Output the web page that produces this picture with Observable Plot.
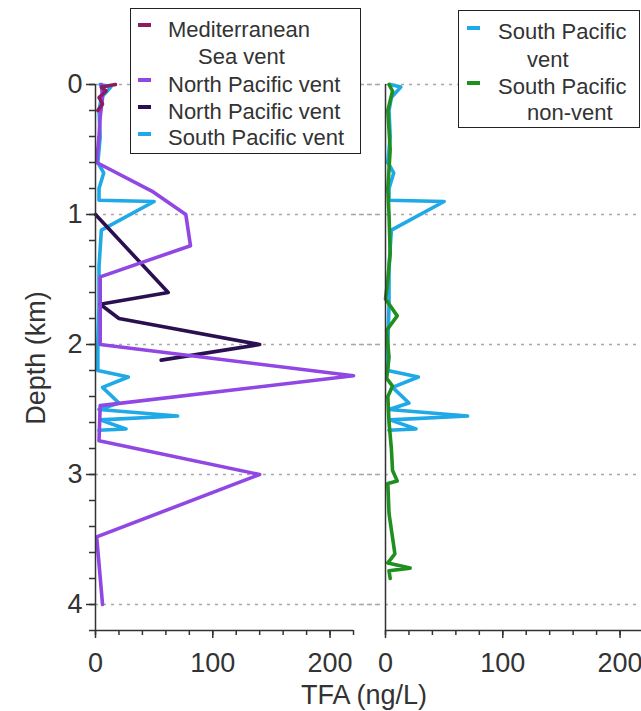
<!DOCTYPE html>
<html>
<head>
<meta charset="utf-8">
<script src="https://cdn.jsdelivr.net/npm/d3@7"></script>
<script src="https://cdn.jsdelivr.net/npm/@observablehq/plot@0.6"></script>
<style>
  html, body { margin: 0; padding: 0; background: #fff; overflow: hidden; }
  #wrap { position: relative; width: 641px; height: 711px; overflow: hidden; font-family: "Liberation Sans", Arial, sans-serif; color: #333; }
  #wrap svg { position: absolute; top: 0; overflow: visible; }
  .lg { position: absolute; background: #fff; border: 1.5px solid #222; box-sizing: border-box; }
  .lt { position: absolute; font-size: 22px; line-height: 26px; white-space: nowrap; color: #333; }
  .sw { position: absolute; width: 13px; height: 4px; }
  .ax { position: absolute; white-space: nowrap; color: #333; }
</style>
</head>
<body>
<div id="wrap"></div>
<script>
// ---- data (depth in km, TFA in ng/L) ----
const medDepth = [0, 0.02, 0.05, 0.1, 0.15, 0.2];
const medTFA   = [17, 5, 9, 3, 6, 2];

const npPurpleDepth = [0, 0.1, 0.25, 0.4, 0.6, 0.82, 1.0, 1.24, 1.48, 2.0, 2.24, 2.47, 2.74, 3.0, 3.48, 4.0];
const npPurpleTFA   = [5, 6, 4, 3, 1, 48, 77, 81, 4, 4, 220, 4, 3, 140, 1, 6];

const npNavyDepth = [1.0, 1.6, 1.69, 1.8, 2.0, 2.12];
const npNavyTFA   = [0, 62, 4, 20, 140, 56];

const spVentDepth = [0, 0.02, 0.1, 0.2, 0.4, 0.6, 0.68, 0.8, 0.89, 0.9, 1.12, 1.4, 1.7, 2.0, 2.2, 2.25, 2.33, 2.45, 2.5, 2.55, 2.58, 2.65, 2.66];
const spVentTFA   = [4, 13, 5, 3, 4, 2, 7, 3, 3, 50, 5, 3, 3, 2, 2, 28, 6, 20, 3, 70, 4, 26, 3];

const spNonDepth = [0, 0.05, 0.2, 0.5, 0.8, 1.0, 1.3, 1.5, 1.65, 1.78, 1.89, 2.1, 2.26, 2.32, 2.4, 2.6, 2.8, 2.97, 3.05, 3.07, 3.3, 3.61, 3.68, 3.72, 3.74, 3.8];
const spNonTFA   = [3, 6, 2, 4, 2, 3, 4, 2, 0, 10, 1, 3, 1, 6, 2, 3, 5, 6, 10, 2, 3, 8, 2, 21, 3, 4];

const depthTicks = [0, 1, 2, 3, 4];
const tfaTicks = [0, 100, 200];

const colors = {
  med: "#8c1b62",
  npPurple: "#9147e3",
  npNavy: "#2a1050",
  spVent: "#1fa9e6",
  spNon: "#1f8f1f"
};

const rows = (depths, vals) => depths.map((d, i) => ({depth: d, tfa: vals[i]}));

const minorY = d3.range(0, 4.2001, 0.2);
const minorX = d3.range(0, 220.001, 20);

function axes(showYLabels) {
  const m = [
    Plot.ruleX([0], {stroke: "#333", strokeWidth: 1.5}),
    Plot.ruleY([4.2], {stroke: "#333", strokeWidth: 1.5}),
    Plot.axisX(minorX, {tickSize: 5, tickFormat: () => "", stroke: "#333", strokeWidth: 1.5}),
    Plot.axisX(tfaTicks, {tickSize: 8, tickPadding: 14, tickFormat: d => String(d), stroke: "#333", strokeWidth: 1.5, fill: "#333", fontSize: 27})
  ];
  if (showYLabels) {
    m.push(Plot.axisY(minorY, {tickSize: 6, tickFormat: () => "", stroke: "#333", strokeWidth: 1.5}));
    m.push(Plot.axisY(depthTicks, {tickSize: 9, tickPadding: 4, tickFormat: d => String(d), stroke: "#333", strokeWidth: 1.5, fill: "#333", fontSize: 27}));
  }
  return m;
}

const common = {
  height: 711,
  marginTop: 84,
  marginBottom: 81,
  x: {domain: [0, 220], label: null},
  style: {fontFamily: "Liberation Sans, Arial, sans-serif", background: "transparent", overflow: "visible"}
};

const lw = 3.6;

const left = Plot.plot({
  ...common,
  width: 380,
  marginLeft: 95,
  marginRight: 27,
  y: {domain: [0, 4.2], reverse: true, label: null},
  marks: [
    Plot.ruleY(depthTicks, {stroke: "#a8a8a8", strokeWidth: 1.5, strokeDasharray: "3,5", insetRight: -27}),
    Plot.line(rows(spVentDepth, spVentTFA), {x: "tfa", y: "depth", stroke: colors.spVent, strokeWidth: lw}),
    Plot.line(rows(npNavyDepth, npNavyTFA), {x: "tfa", y: "depth", stroke: colors.npNavy, strokeWidth: lw}),
    Plot.line(rows(npPurpleDepth, npPurpleTFA), {x: "tfa", y: "depth", stroke: colors.npPurple, strokeWidth: lw}),
    Plot.line(rows(medDepth, medTFA), {x: "tfa", y: "depth", stroke: colors.med, strokeWidth: lw}),
    ...axes(true)
  ]
});

const right = Plot.plot({
  ...common,
  width: 327,
  marginLeft: 32,
  marginRight: 37,
  y: {domain: [0, 4.2], reverse: true, label: null, axis: null},
  marks: [
    Plot.ruleY(depthTicks, {stroke: "#a8a8a8", strokeWidth: 1.5, strokeDasharray: "3,5", insetLeft: -32}),
    Plot.line(rows(spVentDepth, spVentTFA), {x: "tfa", y: "depth", stroke: colors.spVent, strokeWidth: lw}),
    Plot.line(rows(spNonDepth, spNonTFA), {x: "tfa", y: "depth", stroke: colors.spNon, strokeWidth: lw}),
    ...axes(false)
  ]
});

const wrap = document.getElementById("wrap");
left.style.left = "0px";
right.style.left = "353px";
wrap.appendChild(left);
wrap.appendChild(right);

// axis titles
function addText(txt, css, cls) {
  const d = document.createElement("div");
  d.className = cls;
  d.textContent = txt;
  Object.assign(d.style, css);
  wrap.appendChild(d);
  return d;
}
addText("Depth (km)", {left: "36px", top: "358px", fontSize: "27px", lineHeight: "32px", transform: "translate(-50%, -50%) rotate(-90deg)"}, "ax");
addText("TFA (ng/L)", {left: "364px", top: "679px", fontSize: "27px", lineHeight: "32px", transform: "translateX(-50%)"}, "ax");

// legends
function legend(box, items) {
  const b = document.createElement("div");
  b.className = "lg";
  Object.assign(b.style, {left: box[0] + "px", top: box[1] + "px", width: box[2] + "px", height: box[3] + "px"});
  wrap.appendChild(b);
  items.forEach(it => {
    if (it.swatch) {
      const s = document.createElement("div");
      s.className = "sw";
      Object.assign(s.style, {left: it.swatch[0] + "px", top: (it.swatch[1] - 2) + "px", background: it.color});
      wrap.appendChild(s);
    }
    addText(it.text, {left: it.x + "px", top: (it.y - 13) + "px"}, "lt");
  });
}
legend([130, 8, 231, 146], [
  {text: "Mediterranean", x: 168, y: 30, swatch: [138, 25], color: colors.med},
  {text: "Sea vent", x: 198, y: 57},
  {text: "North Pacific vent", x: 168, y: 85, swatch: [138, 80], color: colors.npPurple},
  {text: "North Pacific vent", x: 168, y: 112, swatch: [138, 107], color: colors.npNavy},
  {text: "South Pacific vent", x: 168, y: 138, swatch: [138, 134], color: colors.spVent}
]);
legend([458, 10, 182, 118], [
  {text: "South Pacific", x: 498, y: 32, swatch: [467, 28], color: colors.spVent},
  {text: "vent", x: 527, y: 60},
  {text: "South Pacific", x: 498, y: 87, swatch: [467, 83], color: colors.spNon},
  {text: "non-vent", x: 527, y: 113}
]);
</script>
</body>
</html>
